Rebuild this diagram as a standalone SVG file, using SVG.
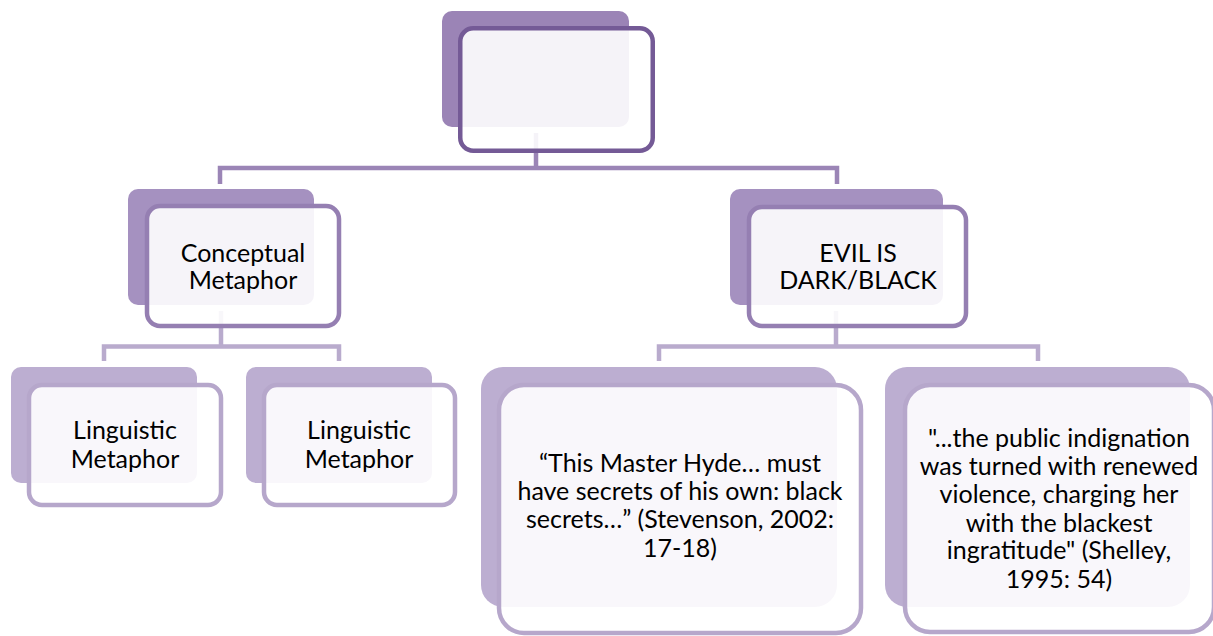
<svg xmlns="http://www.w3.org/2000/svg" width="1213" height="636" viewBox="0 0 1213 636">
<style>
.lbl{font-family:Lato,"Open Sans","Liberation Sans",sans-serif;font-size:25px;fill:#000;text-anchor:middle}
.front{fill:#fff;fill-opacity:0.9;stroke-width:4.5}
.c1{fill:none;stroke:#9b85b6;stroke-width:4.5;stroke-linejoin:miter}
.c2{fill:none;stroke:#b9abcd;stroke-width:4.5;stroke-linejoin:miter}
.b1{fill:#9b84b6}
.s1{stroke:#745a96}
.b2{fill:#a591c0}
.s2{stroke:#957fb2}
.b3{fill:#bcaed1}
.s3{stroke:#b6a7cb}
</style>
<rect width="1213" height="636" fill="#fff"/>
<g id="connectors">
<path class="c1" d="M536 133V168M220 184V168H837V184"/>
<path class="c2" d="M221 311V346.5M104 361V346.5H339V361"/>
<path class="c2" d="M836 311V346.5M659 361V346.5H1038V361"/>
</g>
<g id="root">
<rect class="b1" x="442" y="11" width="187" height="116" rx="10"/>
<rect class="front s1" x="460.25" y="28.25" width="192.5" height="122.5" rx="13"/>
</g>
<g id="conceptual">
<rect class="b2" x="128" y="189" width="186" height="116" rx="10"/>
<rect class="front s2" x="147" y="206" width="192" height="120" rx="13"/>
<text class="lbl" x="243" y="262">Conceptual</text>
<text class="lbl" x="243" y="289">Metaphor</text>
</g>
<g id="evil">
<rect class="b2" x="730" y="189" width="213" height="116" rx="10"/>
<rect class="front s2" x="749" y="207" width="217" height="119" rx="13"/>
<text class="lbl" x="858" y="262">EVIL IS</text>
<text class="lbl" x="858" y="289">DARK/BLACK</text>
</g>
<g id="linguistic1">
<rect class="b3" x="11" y="367" width="186" height="116" rx="10"/>
<rect class="front s3" x="29" y="385" width="192" height="120" rx="13"/>
<text class="lbl" x="125" y="439">Linguistic</text>
<text class="lbl" x="125" y="468">Metaphor</text>
</g>
<g id="linguistic2">
<rect class="b3" x="246" y="367" width="186" height="116" rx="10"/>
<rect class="front s3" x="264" y="385" width="191" height="120" rx="13"/>
<text class="lbl" x="359" y="439">Linguistic</text>
<text class="lbl" x="359" y="468">Metaphor</text>
</g>
<g id="stevenson">
<rect class="b3" x="481" y="367" width="356" height="240" rx="22"/>
<rect class="front s3" x="499" y="385" width="362" height="248" rx="25"/>
<text class="lbl" x="680" y="472">“This Master Hyde… must</text>
<text class="lbl" x="680" y="500">have secrets of his own: black</text>
<text class="lbl" x="680" y="528">secrets…” (Stevenson, 2002:</text>
<text class="lbl" x="680" y="557">17-18)</text>
</g>
<g id="shelley">
<rect class="b3" x="885" y="367" width="305" height="240" rx="22"/>
<rect class="front s3" x="905" y="385" width="309" height="247" rx="25"/>
<text class="lbl" x="1059" y="447">"...the public indignation</text>
<text class="lbl" x="1059" y="475">was turned with renewed</text>
<text class="lbl" x="1059" y="503">violence, charging her</text>
<text class="lbl" x="1059" y="532">with the blackest</text>
<text class="lbl" x="1059" y="559">ingratitude" (Shelley,</text>
<text class="lbl" x="1059" y="588">1995: 54)</text>
</g>
</svg>
